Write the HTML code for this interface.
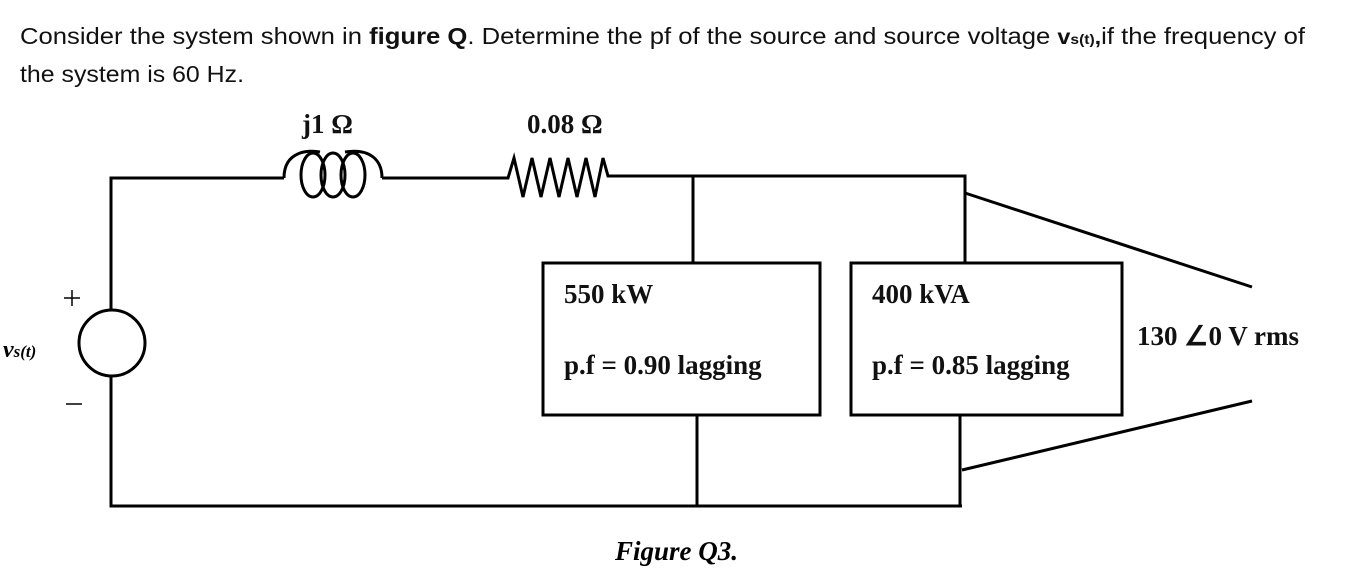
<!DOCTYPE html>
<html><head><meta charset="utf-8"><style>
html,body{margin:0;padding:0;background:#fff;width:1353px;height:571px;overflow:hidden}
svg{display:block}
.t{font-family:"Liberation Sans",sans-serif;font-size:23px;fill:#111}
.s{font-family:"Liberation Serif",serif;font-weight:bold;font-size:27px;fill:#111}
</style></head><body>
<svg width="1353" height="571" viewBox="0 0 1353 571" xmlns="http://www.w3.org/2000/svg">
<text class="t" x="20" y="44" textLength="1285" lengthAdjust="spacingAndGlyphs">Consider the system shown in <tspan font-weight="bold">figure Q</tspan>. Determine the pf of the source and source voltage <tspan font-weight="bold" font-size="21">v<tspan font-size="14">s(t)</tspan>,</tspan>if the frequency of</text>
<text class="t" x="20" y="82" textLength="224" lengthAdjust="spacingAndGlyphs">the system is 60 Hz.</text>
<g fill="none" stroke="#000" stroke-width="3">
<!-- left wire -->
<path d="M111 310 V178 H284"/>
<path d="M111 376 V506 H962"/>
<circle cx="112" cy="343" r="33"/>
<!-- inductor -->
<path d="M284 178 C284 150 310 150 320 152"/>
<path d="M345 152 C370 148 382 160 382 178"/>
<ellipse cx="313" cy="175" rx="12" ry="22"/>
<ellipse cx="333" cy="175" rx="12" ry="22"/>
<ellipse cx="353" cy="175" rx="12" ry="22"/>
<path d="M382 178 H508 L514 158 L523 197 L532 158 L541 197 L550 158 L559 197 L568 158 L577 197 L586 158 L595 197 L603 158 L608 176 H693"/>
<path d="M693 176 H965 V263"/>
<path d="M693 176 V263"/>
<rect x="543" y="263" width="277" height="152"/>
<rect x="851" y="263" width="271" height="152"/>
<path d="M697 415 V506"/>
<path d="M960 415 V506"/>
<path d="M965 193 L1252 287"/>
<path d="M962 470 L1252 401"/>
</g>
<g stroke="#000" stroke-width="1.5">
<path d="M64 298 H80 M72 290 V306"/>
<path d="M66 404 H82"/>
</g>
<text x="3" y="357" font-family="Liberation Serif,serif" font-style="italic" font-weight="bold" font-size="24">v<tspan font-size="17">s(t)</tspan></text>
<text class="s" x="302" y="133">j1 Ω</text>
<text class="s" x="527" y="133">0.08 Ω</text>
<text class="s" x="564" y="303">550 kW</text>
<text class="s" x="564" y="374">p.f = 0.90 lagging</text>
<text class="s" x="872" y="303">400 kVA</text>
<text class="s" x="872" y="374">p.f = 0.85 lagging</text>
<text class="s" x="1137" y="345">130 ∠0 V rms</text>
<text x="615" y="560" font-family="Liberation Serif,serif" font-style="italic" font-weight="bold" font-size="27">Figure Q3.</text>
</svg>
</body></html>
